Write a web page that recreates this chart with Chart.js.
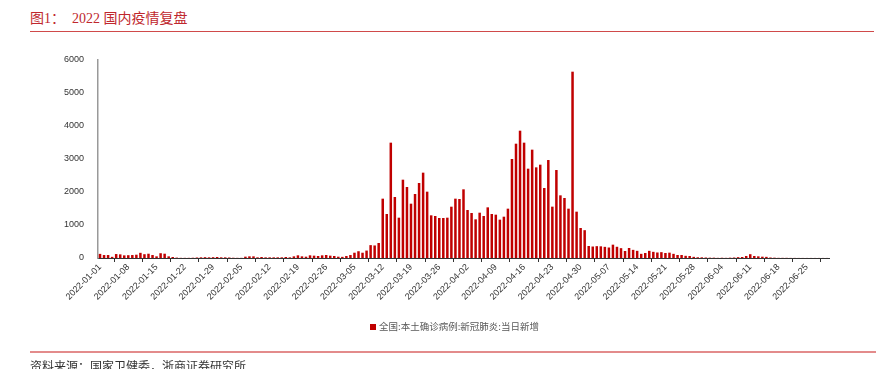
<!DOCTYPE html>
<html>
<head>
<meta charset="utf-8">
<script src="https://cdn.jsdelivr.net/npm/chart.js@4.4.1/dist/chart.umd.min.js"></script>
<style>
  body { margin: 0; background: #fff; width: 880px; height: 369px; overflow: hidden; position: relative; }
  #myChart { position: absolute; left: 0; top: 0; }
  .title { position: absolute; left: 30px; top: 7px; font: 14px "Liberation Serif", "Noto Sans CJK SC", serif; color: #c0272d; white-space: pre; }
  .topline { position: absolute; left: 30px; top: 31px; width: 844px; height: 1px; background: #d04a4a; }
  .legend { position: absolute; left: 370px; top: 319px; font: 9.5px "Noto Sans CJK SC", sans-serif; color: #595959; }
  .legend i { display: inline-block; width: 6px; height: 6px; background: #c00000; margin-right: 3px; vertical-align: 0px; }
  .botline { position: absolute; left: 30px; top: 351px; width: 846px; height: 2px; background: #e38b8b; }
  .source { position: absolute; left: 30px; top: 357px; font: 12px "Noto Sans CJK SC", sans-serif; color: #333; }
</style>
</head>
<body>
<div class="title">图1：  2022 国内疫情复盘</div>
<div class="topline"></div>
<canvas id="myChart" width="880" height="369"></canvas>
<div class="legend"><i></i>全国:本土确诊病例:新冠肺炎:当日新增</div>
<div class="botline"></div>
<div class="source">资料来源：国家卫健委，浙商证券研究所</div>
<script>
// daily new local confirmed cases (2022-01-01 .. 2022-06-30)
const jan = [125, 90, 90, 35, 120, 110, 80, 85, 90, 100, 157, 115, 130, 90, 50, 145,
  130, 50, 30, 12, 5, 5, 5, 8, 15, 20, 25, 20, 25, 30, 20];
const feb = [20, 15, 8, 5, 5, 40, 50, 50, 20, 30, 20, 20, 20, 20, 20, 30, 20, 50, 81,
  50, 40, 81, 71, 61, 81, 91, 71, 61];
const mar = [40, 35, 60, 90, 160, 205, 160, 225, 390, 380, 455, 1798, 1333, 3495, 1848,
  1222, 2373, 2151, 1646, 1939, 2273, 2586, 2010, 1293, 1273, 1212, 1212, 1222, 1555,
  1798, 1788];
const apr = [2081, 1454, 1364, 1172, 1373, 1273, 1535, 1333, 1313, 1162, 1252, 1495, 3000,
  3464, 3858, 3495, 2707, 3283, 2747, 2828, 2121, 2969, 1556, 2666, 1899, 1818, 1495,
  5646, 1404, 909];
const may = [843, 364, 348, 359, 354, 338, 318, 404, 340, 298, 212, 303, 247, 217, 126,
  151, 217, 187, 167, 177, 151, 162, 126, 91, 91, 66, 61, 35, 22, 20, 15];
const jun = [10, 10, 5, 8, 5, 10, 15, 25, 30, 60, 115, 60, 50, 40, 35, 15, 10, 5, 5, 5,
  3, 3, 2, 2, 2, 2, 2, 2, 2, 2];
const newCases = [].concat(jan, feb, mar, apr, may, jun);

// one category per day
const startDate = '2022-01-01';
const dates = [];
const d = new Date(startDate + 'T00:00:00Z');
for (let i = 0; i < newCases.length; i++) {
  dates.push(d.toISOString().slice(0, 10));
  d.setUTCDate(d.getUTCDate() + 1);
}

const yTicks = [0, 1000, 2000, 3000, 4000, 5000, 6000];
const seriesName = '全国:本土确诊病例:新冠肺炎:当日新增';

const ctx = document.getElementById('myChart').getContext('2d');
new Chart(ctx, {
  type: 'bar',
  data: {
    labels: dates,
    datasets: [{
      label: seriesName,
      data: newCases,
      backgroundColor: '#c00000',
      barPercentage: 0.62,
      categoryPercentage: 1
    }]
  },
  options: {
    responsive: false,
    animation: false,
    layout: { padding: { top: 60, right: 51, bottom: 59, left: 0 } },
    plugins: { legend: { display: false }, tooltip: { enabled: false } },
    scales: {
      x: {
        grid: { display: true, drawOnChartArea: false, tickLength: 4, color: '#333', offset: true },
        border: { display: true, color: '#333', width: 1 },
        ticks: {
          autoSkip: false, minRotation: 45, maxRotation: 45, padding: 0,
          color: '#333', font: { family: 'Liberation Sans', size: 9 },
          callback: (v, i) => (i % 7 === 0 ? dates[i] : null)
        },
        afterFit: s => { s.height = 52; }
      },
      y: {
        min: 0, max: 6000,
        afterBuildTicks: s => { s.ticks = yTicks.map(v => ({ value: v })); },
        grid: { display: false },
        border: { display: true, color: '#999', width: 1.5 },
        ticks: {
          color: '#333', padding: 6, font: { family: 'Liberation Sans', size: 9 },
          callback: v => String(v)
        },
        afterFit: s => { s.width = 98; }
      }
    }
  }
});
</script>
</body>
</html>
